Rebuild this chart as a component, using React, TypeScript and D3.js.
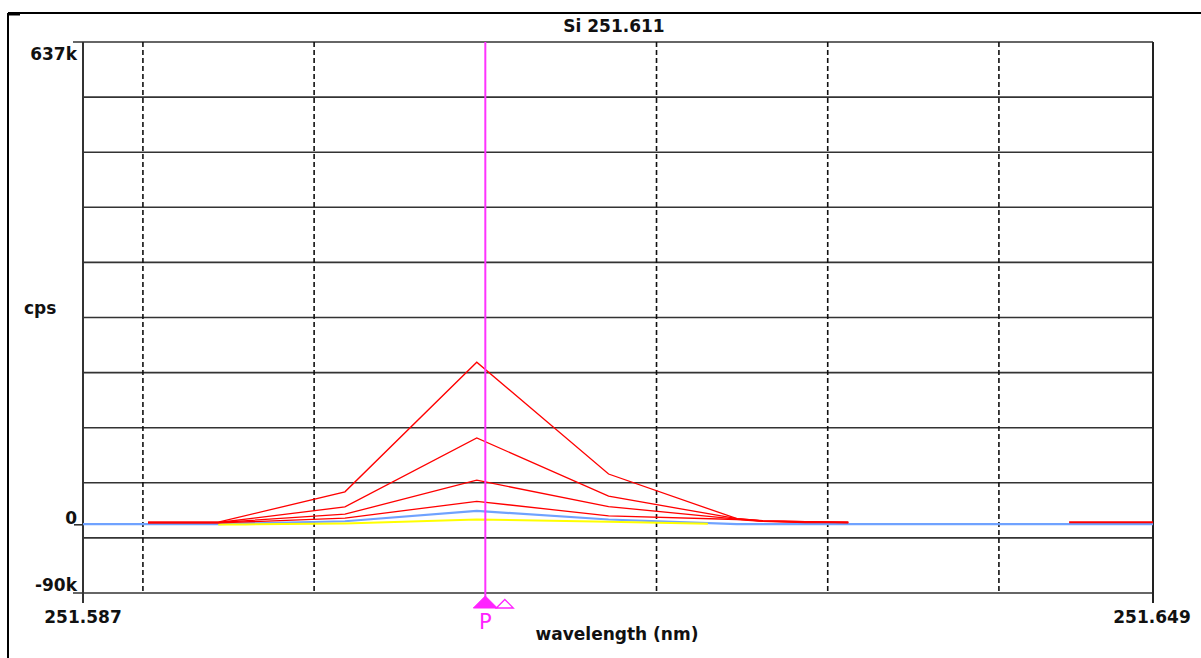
import React from "react";
import * as d3 from "d3";

// ---- data ----
const title = "Si 251.611";
const xDomain = [251.5866, 251.6491];
const yDomain = [-90000, 637000];
const xTickLabels = ["251.587", "251.649"];
const yTickValues = [637000, 0, -90000];
const yTickLabels = ["637k", "0", "-90k"];
const dashedGrid = [251.5901, 251.6001, 251.6201, 251.6301, 251.6401];
const markerWl = 251.6101;

const redWl = [251.5904, 251.5945, 251.6019, 251.6096, 251.6173, 251.6248, 251.6263, 251.6288, 251.6313];
const red1 = [3400, 3400, 43500, 214500, 67000, 8000, 5500, 4000, 3400];
const red2 = [3000, 3000, 23600, 114600, 37700, 8000, 5000, 4000, 3000];
const red3 = [3000, 3000, 14000, 58800, 24000, 7500, 5000, 3500, 3000];
const red4 = [2500, 2500, 8700, 31000, 11700, 7000, 4500, 3000, 3000];
const redTailWl = [251.6442, 251.6491];
const redTail = [3400, 3400];
const blueWl = [251.5866, 251.5945, 251.6019, 251.6096, 251.6173, 251.6248, 251.6491];
const blue = [800, 1000, 4700, 18300, 7000, 800, 800];
const yellowWl = [251.5945, 251.5961, 251.6019, 251.6096, 251.6173, 251.6231];
const yellow = [300, 500, 1700, 7000, 4000, 1500];

const W = 1201, H = 658;
const L = 83, R = 1153, T = 42, B = 593;

export default function App() {
  const x = d3.scaleLinear().domain(xDomain).range([L, R]);
  const y = d3.scaleLinear().domain(yDomain).range([B, T]);
  const hGrid = d3.range(11).map((i) => yDomain[0] + (i * (yDomain[1] - yDomain[0])) / 10);
  const mk = (wls: number[], vals: number[]) =>
    d3.line<number>().x((_, i) => x(wls[i])).y((v) => y(v))(vals) || "";
  const font = "'DejaVu Sans', sans-serif";
  const mx = x(markerWl);
  const reds = [red4, red3, red2, red1];
  return (
    <svg width={W} height={H} style={{ position: "absolute", left: 0, top: 0, display: "block" }}
      fontFamily={font}>
      <rect width={W} height={H} fill="#fff" />
      {/* outer frame */}
      <line x1={8} y1={13} x2={W} y2={13} stroke="#000" strokeWidth={2} />
      <line x1={8} y1={13} x2={8} y2={H} stroke="#000" strokeWidth={2} />
      <line x1={8} y1={14} x2={20} y2={14} stroke="#000" strokeWidth={3} />
      <text x={614} y={32} textAnchor="middle" fontSize={17} fontWeight="bold" fill="#111">{title}</text>
      {/* horizontal grid */}
      {hGrid.map((v, i) => (
        <line key={i} x1={i === 0 || i === 10 ? L - 10 : L} x2={R} y1={y(v)} y2={y(v)} stroke="#333" strokeWidth={1.6} />
      ))}
      {/* dashed verticals */}
      {dashedGrid.map((v, i) => (
        <line key={i} x1={x(v)} x2={x(v)} y1={T} y2={B} stroke="#111" strokeWidth={1.6} strokeDasharray="5,3" />
      ))}
      {/* borders */}
      <line x1={L} x2={L} y1={T} y2={B + 10} stroke="#333" strokeWidth={2} />
      <line x1={R} x2={R} y1={T} y2={B + 10} stroke="#222" strokeWidth={2} />
      <line x1={L - 9} x2={L} y1={y(0)} y2={y(0)} stroke="#333" strokeWidth={1.6} />
      {/* y tick labels */}
      {yTickValues.map((v, i) => (
        <text key={i} x={77} y={y(v) + [18, -1, -2][i]} textAnchor="end" fontSize={17} fontWeight="bold" fill="#111">
          {yTickLabels[i]}
        </text>
      ))}
      <text x={24} y={314} fontSize={17} fontWeight="bold" fill="#111">cps</text>
      {/* x tick labels */}
      <text x={L} y={623} textAnchor="middle" fontSize={17} fontWeight="bold" fill="#111">{xTickLabels[0]}</text>
      <text x={R - 1} y={623} textAnchor="middle" fontSize={17} fontWeight="bold" fill="#111">{xTickLabels[1]}</text>
      <text x={617} y={640} textAnchor="middle" fontSize={17} fontWeight="bold" fill="#111">wavelength (nm)</text>
      {/* series */}
      <path d={mk(blueWl, blue)} fill="none" stroke="#6fa2ff" strokeWidth={2.2} />
      <path d={mk(yellowWl, yellow)} fill="none" stroke="#ffff00" strokeWidth={2} />
      {reds.map((s, i) => (
        <path key={i} d={mk(redWl, s)} fill="none" stroke="#ff0000" strokeWidth={1.3} />
      ))}
      <path d={mk(redTailWl, redTail)} fill="none" stroke="#ff0000" strokeWidth={2} />
      {/* marker */}
      <line x1={mx} x2={mx} y1={T} y2={600} stroke="#ff33ff" strokeWidth={2} />
      <path d={`M${mx - 12},608 L${mx},596 L${mx + 12},608 Z`} fill="#ff22ff" stroke="#ff22ff" strokeWidth={1} />
      <path d={`M${mx + 11},608 L${mx + 19.5},599.5 L${mx + 28},608 Z`} fill="#fff" stroke="#ff22ff" strokeWidth={1.3} />
      <text x={mx} y={629} textAnchor="middle" fontSize={21} fill="#ff22ff">P</text>
    </svg>
  );
}
